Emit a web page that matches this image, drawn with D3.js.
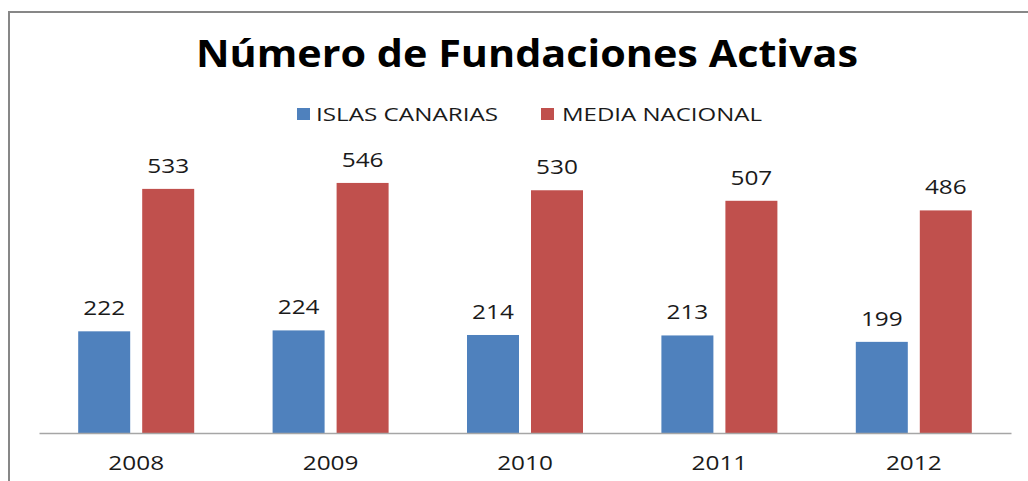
<!DOCTYPE html>
<html>
<head>
<meta charset="utf-8">
<script src="https://cdn.jsdelivr.net/npm/d3@7"></script>
<style>
  body { margin: 0; background: #fff; }
  text { font-family: "Open Sans", sans-serif; fill: #1a1a1a; }
</style>
</head>
<body>
<div id="chart"></div>
<script>
// data
var years = ["2008", "2009", "2010", "2011", "2012"];
var canarias = [222, 224, 214, 213, 199];
var nacional = [533, 546, 530, 507, 486];
var seriesNames = ["ISLAS CANARIAS", "MEDIA NACIONAL"];
var colors = ["#4F81BD", "#C0504D"];

var width = 1028, height = 481;
var stretch = 1.25; // the original is a bit wider than tall

var svg = d3.select("#chart").append("svg")
    .attr("width", width)
    .attr("height", height);

// frame (only top and left visible)
svg.append("path")
    .attr("d", "M9,481 V12 H1028")
    .attr("fill", "none")
    .attr("stroke", "#878787")
    .attr("stroke-width", 2);

// title
svg.append("text")
    .attr("x", 196)
    .attr("y", 67)
    .attr("textLength", 662)
    .attr("lengthAdjust", "spacingAndGlyphs")
    .style("font-size", "38px")
    .style("font-weight", "bold")
    .style("fill", "#000")
    .text("Número de Fundaciones Activas");

// legend
var legendPos = [{sq: 297, tx: 316, w: 182}, {sq: 541, tx: 562, w: 200}];
seriesNames.forEach(function(name, i) {
    svg.append("rect")
        .attr("x", legendPos[i].sq)
        .attr("y", 108)
        .attr("width", 13)
        .attr("height", 12)
        .attr("fill", colors[i]);
    svg.append("text")
        .attr("x", legendPos[i].tx)
        .attr("y", 121)
        .attr("textLength", legendPos[i].w)
        .attr("lengthAdjust", "spacingAndGlyphs")
        .style("font-size", "19px")
        .text(name);
});

var x0 = d3.scaleBand()
    .domain(years)
    .range([39, 1011])
    .paddingInner(0)
    .paddingOuter(0);

var barW = 52, gap = 12;
var x1 = d3.scaleOrdinal()
    .domain([0, 1])
    .range([x0.bandwidth() / 2 - gap / 2 - barW, x0.bandwidth() / 2 + gap / 2]);

var y = d3.scaleLinear()
    .domain([0, 600])
    .range([433, 433 - 600 * 0.458]);

var data = years.map(function(yr, i) {
    return {year: yr, values: [canarias[i], nacional[i]]};
});

var groups = svg.selectAll(".grp")
    .data(data)
    .enter().append("g")
    .attr("class", "grp")
    .attr("transform", function(d) { return "translate(" + x0(d.year) + ",0)"; });

groups.selectAll("rect")
    .data(function(d) { return d.values; })
    .enter().append("rect")
    .attr("x", function(d, i) { return x1(i); })
    .attr("y", function(d) { return y(d); })
    .attr("width", barW)
    .attr("height", function(d) { return y(0) - y(d); })
    .attr("fill", function(d, i) { return colors[i]; });

// value labels
groups.selectAll(".val")
    .data(function(d) { return d.values; })
    .enter().append("text")
    .attr("class", "val")
    .attr("text-anchor", "middle")
    .attr("transform", function(d, i) {
        return "translate(" + (x1(i) + barW / 2) + "," + (y(d) - 16) + ") scale(" + stretch + ",1)";
    })
    .style("font-size", "19.5px")
    .text(function(d) { return d; });

// x axis
var xAxis = svg.append("g")
    .attr("transform", "translate(0," + y(0) + ")")
    .call(d3.axisBottom(x0).tickSize(0).tickPadding(0));
xAxis.select(".domain").attr("stroke", "#a6a6a6").attr("stroke-width", 1.5);
xAxis.selectAll("text")
    .attr("y", 0)
    .attr("dy", 0)
    .attr("transform", "translate(0,37) scale(" + stretch + ",1)")
    .style("font-family", "'Open Sans', sans-serif")
    .style("font-size", "19.5px")
    .style("fill", "#1a1a1a");
</script>
</body>
</html>
